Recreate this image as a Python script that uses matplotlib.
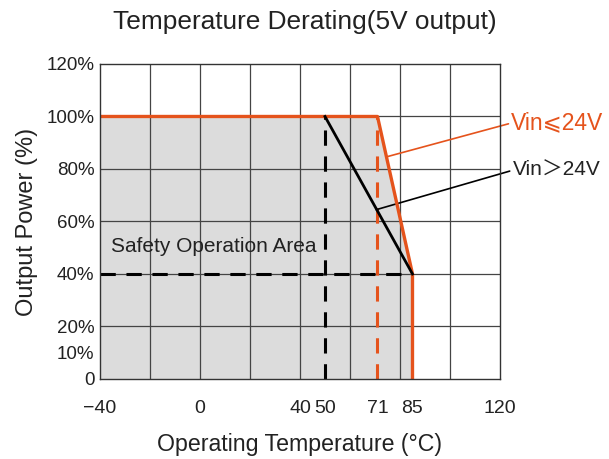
import matplotlib.pyplot as plt

plt.rcParams['font.family'] = ['Liberation Sans', 'DejaVu Sans', 'Noto Sans CJK SC']

# derating curves (temperature in degC, output power in %)
vin_low_temp = [-40, 71, 85, 85]
vin_low_power = [100, 100, 40, 0]
vin_high_temp = [50, 85]
vin_high_power = [100, 40]

x_ticks = [-40, 0, 40, 50, 71, 85, 120]
x_labels = ['\u221240', '0', '40', '50', '71', '85', '120']
y_ticks = [0, 10, 20, 40, 60, 80, 100, 120]
y_labels = ['0', '10%', '20%', '40%', '60%', '80%', '100%', '120%']

orange = '#E5531C'
txt = '#222222'

fig = plt.figure(figsize=(6.09, 4.59), dpi=100)
ax = fig.add_axes([0.1642, 0.1743, 0.6568, 0.6863])
ax.set_xlim(-40, 120)
ax.set_ylim(0, 120)

# grid
for gx in range(-20, 120, 20):
    ax.axvline(gx, color='#444444', lw=0.9, zorder=1)
for gy in range(20, 120, 20):
    ax.axhline(gy, color='#444444', lw=0.9, zorder=1)

# safe area
ax.fill_between(vin_low_temp, vin_low_power, 0, color='#DCDCDC', zorder=0, lw=0)

# dashed guides
ax.plot([-40, 85], [40, 40], color='black', lw=2.2, ls=(0, (5, 3.5)), zorder=3)
ax.plot([50, 50], [0, 100], color='black', lw=2.2, ls=(0, (5, 3.5)), zorder=3)
ax.plot([71, 71], [0, 100], color=orange, lw=2.2, ls=(0, (5, 3.5)), zorder=3)

# curves
ax.plot(vin_low_temp, vin_low_power, color=orange, lw=2.4, zorder=4)
ax.plot(vin_high_temp, vin_high_power, color='black', lw=2.0, zorder=4)

ax.text(-35.5, 50.5, 'Safety Operation Area', fontsize=15, va='center', ha='left',
        color=txt, zorder=5)

ax.annotate('Vin\u2a7d24V', xy=(74.5, 84.6), xytext=(124.5, 97.5), color=orange,
            fontsize=16.5, va='center', ha='left', annotation_clip=False,
            arrowprops=dict(arrowstyle='-', color=orange, lw=1.2, shrinkA=0, shrinkB=0,
                            relpos=(0, 0.5)))
ax.annotate('Vin\uFF1E24V', xy=(70.5, 64.5), xytext=(125, 79.5), color=txt,
            fontsize=15, va='center', ha='left', annotation_clip=False,
            arrowprops=dict(arrowstyle='-', color='black', lw=1.2, shrinkA=0, shrinkB=0,
                            relpos=(0, 0.5)))

ax.set_xticks(x_ticks)
ax.set_xticklabels(x_labels, fontsize=14, color=txt)
ax.set_yticks(y_ticks)
ax.set_yticklabels(y_labels, fontsize=13.5, color=txt)
ax.tick_params(axis='x', length=0, pad=15)
ax.tick_params(axis='y', length=0, pad=4)
for s in ax.spines.values():
    s.set_color('#333333')
    s.set_linewidth(1.0)
    s.set_zorder(6)

ax.set_xlabel('Operating Temperature (\u00b0C)', fontsize=16.7, labelpad=12, color=txt)
ax.set_ylabel('Output Power (%)', fontsize=17, labelpad=6, color=txt)
fig.text(0.5, 1 - 22 / 459, 'Temperature Derating(5V output)', fontsize=18.9,
         ha='center', va='center', color=txt)

fig.savefig('out.png', dpi=100)
